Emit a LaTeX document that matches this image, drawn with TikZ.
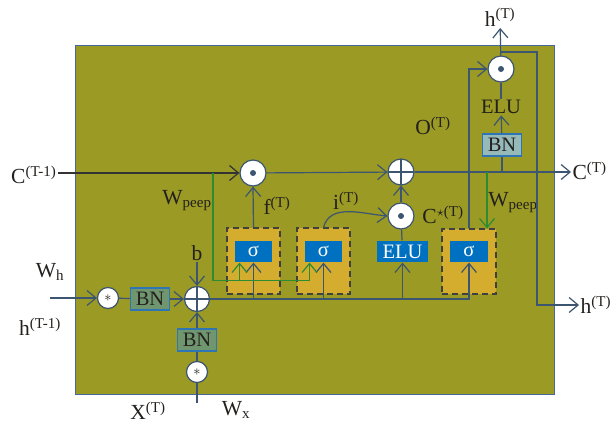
\documentclass[tikz,border=0pt]{standalone}
\usepackage{fontspec}
\setmainfont{Liberation Serif}
\usetikzlibrary{arrows.meta, positioning, calc}

\definecolor{cellbg}{RGB}{154,154,36}
\definecolor{celledge}{RGB}{70,105,150}
\definecolor{wirecol}{RGB}{60,85,112}
\definecolor{peepcol}{RGB}{45,140,50}
\definecolor{gateyellow}{RGB}{212,172,46}
\definecolor{actblue}{RGB}{0,112,192}
\definecolor{bngreen}{RGB}{112,150,112}
\definecolor{bnlight}{RGB}{150,185,185}
\definecolor{bnedge}{RGB}{46,117,182}
\definecolor{labcol}{RGB}{35,32,30}

\begin{document}
\begin{tikzpicture}[
  x=1pt, y=-1pt, line width=1.2pt,
  font=\fontsize{21.5}{25}\selectfont, text=labcol,
  > = {Straight Barb[length=9pt,width=15pt]},
  wire/.style = {draw=wirecol},
  peep/.style = {draw=peepcol},
  opcirc/.style = {draw=wirecol, fill=white, circle, minimum size=26pt, inner sep=0pt},
  dotop/.style = {opcirc, path picture={\fill[wirecol] (path picture bounding box.center) circle (3pt);}},
  plusop/.style = {opcirc, path picture={\draw[wirecol] (path picture bounding box.north) -- (path picture bounding box.south) (path picture bounding box.west) -- (path picture bounding box.east);}},
  starop/.style = {draw=wirecol, fill=white, circle, minimum size=21pt, inner sep=0pt, font=\fontsize{14}{14}\selectfont},
  bnbox/.style = {draw=bnedge, fill=bngreen, minimum width=39pt, minimum height=22pt, inner sep=0pt, font=\fontsize{20.5}{20}\selectfont},
  gatebox/.style = {draw=black!75, dash pattern=on 6pt off 4pt, fill=gateyellow, minimum width=53pt, minimum height=66pt},
  actbox/.style = {fill=actblue, text=white, minimum height=21pt, inner sep=0pt, font=\fontsize{20.5}{20}\selectfont},
  lab/.style = {inner sep=1pt}
  ]
  \useasboundingbox (0,0) rectangle (611,430);
  \draw[draw=celledge, fill=cellbg, line width=0.8pt] (75,45) rectangle (554,394);

  % gates
  \node[gatebox] (gf) at (253.5,261) {};
  \node[gatebox] (gi) at (323.5,261) {};
  \node[gatebox, minimum width=54pt, minimum height=65pt] (go) at (469,261.5) {};
  \node[actbox, minimum width=37pt] (sf) at (253.5,251.5) {σ};
  \node[actbox, minimum width=37pt] (si) at (323.5,251.5) {σ};
  \node[actbox, minimum width=38pt] (so) at (469,251.5) {σ};
  \node[actbox, minimum width=51pt] (ec) at (402.5,251.5) {ELU};

  % operators
  \node[dotop] (fdot) at (253,173) {};
  \node[plusop] (cplus) at (401,172) {};
  \node[dotop] (cdot) at (401,216) {};
  \node[dotop] (odot) at (501,69) {};
  \node[plusop, minimum size=25pt] (xplus) at (197,299) {};
  \node[starop] (hstar) at (108,298) {$\ast$};
  \node[starop] (xstar) at (197,372) {$\ast$};
  \node[bnbox] (bnh) at (150,299) {BN};
  \node[bnbox] (bnx) at (197,340) {BN};
  \node[bnbox, fill=bnlight] (bno) at (502,145) {BN};
  \node[lab, font=\fontsize{20.5}{20}\selectfont] (eluo) at (501,107) {ELU};

  % labels
  \node[lab, anchor=east] (cprev) at (58,175) {C\textsuperscript{(T-1)}};
  \node[lab, anchor=west] (cnext) at (571,171) {C\textsuperscript{(T)}};
  \node[lab, anchor=west] (hnext) at (579,305) {h\textsuperscript{(T)}};
  \node[lab, anchor=south] (htop) at (500,28) {h\textsuperscript{(T)}};
  \node[lab] at (50,272) {W\textsubscript{h}};
  \node[lab] at (40,327) {h\textsuperscript{(T-1)}};
  \node[lab, anchor=south] (blab) at (197,262) {b};
  \node[lab] at (148,411) {X\textsuperscript{(T)}};
  \node[lab] at (236,410) {W\textsubscript{x}};
  \node[lab] at (187,201) {W\textsubscript{peep}};
  \node[lab] at (513,203) {W\textsubscript{peep}};
  \node[lab] at (277,206) {f\textsuperscript{(T)}};
  \node[lab] at (346,201) {i\textsuperscript{(T)}};
  \node[lab] at (443,215) {C\textsuperscript{$\star$(T)}};
  \node[lab] at (433,126) {O\textsuperscript{(T)}};

  \coordinate (hin) at (50,298);
  \coordinate (xin) at (197,403);
  \coordinate (pj) at (213,173);
  \coordinate (pj2) at (487,172);
  \coordinate (hb) at (501,52);
  \coordinate (hc) at (537,52);

  % input side
  \draw[wire,->] (hin) -- (hstar);
  \draw[wire] (hstar) -- (bnh);
  \draw[wire,->] (bnh) -- (xplus);
  \draw[wire,->] (blab) -- (xplus);
  \draw[wire] (xin) -- (xstar);
  \draw[wire] (xstar) -- (bnx);
  \draw[wire,->] (bnx) -- (xplus);
  \draw[wire,->] (xplus.east) -| (so.south);
  \draw[wire,->] (sf.south |- xplus.east) -- (sf.south);
  \draw[wire,->] (si.south |- xplus.east) -- (si.south);
  \draw[wire,->] (ec.south |- xplus.east) -- (ec.south);

  % cell state
  \draw[draw=black!80,->] (cprev.east |- fdot.west) -- (fdot.west);
  \draw[wire,->] (gf.north) -- (fdot.south);
  \draw[wire,->] (fdot) -- (cplus);
  \draw[wire,->] (gi.north) to[out=75,in=175] (cdot.west);
  \draw[wire] (ec) -- (cdot);
  \draw[wire,->] (cdot) -- (cplus);
  \draw[wire,->] (cplus.east) -- (cnext.west |- cplus.east);

  % peepholes
  \draw[peep,->] (pj) |- ([xshift=-14pt,yshift=-18pt]si.south) -- ([xshift=-14pt]si.south);
  \draw[peep,->] ([xshift=-14pt,yshift=-18pt]sf.south) -- ([xshift=-14pt]sf.south);
  \draw[peep,->] (pj2) -- (go.north -| pj2);

  % output
  \draw[wire,->] (go.north) |- (odot.west);
  \draw[wire] (bno.south |- cplus.east) -- (bno.south);
  \draw[wire,->] (bno) -- (eluo);
  \draw[wire] (eluo) -- (odot);
  \draw[wire,->] (odot) -- (htop);
  \draw[wire,->] (hb) -- (hc) |- (hnext.west);
\end{tikzpicture}
\end{document}
